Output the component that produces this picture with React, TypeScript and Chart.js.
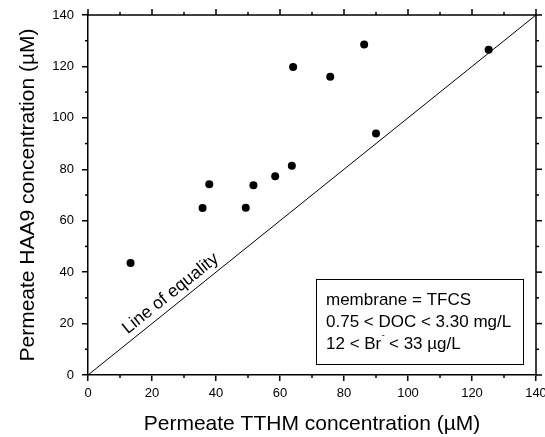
import React, { useEffect, useRef } from 'react';
import { Chart, registerables } from 'chart.js';

Chart.register(...registerables);

// ---- Data ----
const tthm = [13.3, 35.8, 37.9, 49.3, 51.7, 58.5, 63.7, 64.1, 75.7, 86.3, 90.0, 125.2];
const haa9 = [43.6, 64.9, 74.2, 65.0, 73.8, 77.3, 81.4, 119.8, 116.0, 128.5, 93.9, 126.5];

const equalityX = [0, 140];
const equalityY = [0, 140];

const axisMin = 0;
const axisMax = 140;
const majorStep = 20;
const minorStep = 10;

const xTitle = 'Permeate TTHM concentration (\u00b5M)';
const yTitle = 'Permeate HAA9 concentration (\u00b5M)';
const equalityLabel = 'Line of equality';
const legendLine1 = 'membrane = TFCS';
const legendLine2 = '0.75 < DOC < 3.30 mg/L';
const legendLine3a = '12 < Br';
const legendLine3sup = '-';
const legendLine3b = ' < 33 \u00b5g/L';

const FONT = '"Liberation Sans", Arial, Helvetica, sans-serif';

const decorPlugin = {
  id: 'decor',
  afterDraw(chart: any) {
    const ctx = chart.ctx as CanvasRenderingContext2D;
    const { left, right, top, bottom } = chart.chartArea;
    const xs = chart.scales.x;
    const ys = chart.scales.y;
    ctx.save();
    ctx.strokeStyle = '#000';
    ctx.lineWidth = 1.5;
    ctx.beginPath();
    ctx.moveTo(left, top);
    ctx.lineTo(right, top);
    ctx.lineTo(right, bottom);
    ctx.stroke();
    const seg = (x1: number, y1: number, x2: number, y2: number) => {
      ctx.beginPath();
      ctx.moveTo(x1, y1);
      ctx.lineTo(x2, y2);
      ctx.stroke();
    };
    for (let v = axisMin; v <= axisMax; v += minorStep) {
      const major = v % majorStep === 0;
      const len = major ? 6 : 3;
      const px = xs.getPixelForValue(v);
      const py = ys.getPixelForValue(v);
      seg(px, top, px, top - len);
      seg(right, py, right + len, py);
      if (!major) {
        seg(px, bottom, px, bottom + len);
        seg(left, py, left - len, py);
      }
    }

    // Line of equality label
    const p0x = xs.getPixelForValue(equalityX[0]);
    const p0y = ys.getPixelForValue(equalityY[0]);
    const p1x = xs.getPixelForValue(equalityX[1]);
    const p1y = ys.getPixelForValue(equalityY[1]);
    const ang = Math.atan2(p1y - p0y, p1x - p0x);
    ctx.save();
    ctx.translate(xs.getPixelForValue(25.8), ys.getPixelForValue(31.6));
    ctx.rotate(ang);
    ctx.fillStyle = '#000';
    ctx.font = `17.5px ${FONT}`;
    ctx.textAlign = 'center';
    ctx.textBaseline = 'middle';
    ctx.fillText(equalityLabel, 0, 0);
    ctx.restore();

    // Legend box
    const bx1 = xs.getPixelForValue(71.25);
    const bx2 = xs.getPixelForValue(135.9);
    const by1 = ys.getPixelForValue(37.2);
    const by2 = ys.getPixelForValue(4.3);
    ctx.lineWidth = 1;
    ctx.strokeStyle = '#000';
    ctx.fillStyle = '#fff';
    ctx.fillRect(bx1, by1, bx2 - bx1, by2 - by1);
    ctx.strokeRect(Math.round(bx1) + 0.5, Math.round(by1) + 0.5, Math.round(bx2 - bx1), Math.round(by2 - by1));
    ctx.fillStyle = '#000';
    ctx.font = `17px ${FONT}`;
    ctx.textAlign = 'left';
    ctx.textBaseline = 'middle';
    const tx = bx1 + 10;
    ctx.fillText(legendLine1, tx, by1 + 20.5);
    ctx.fillText(legendLine2, tx, by1 + 42.5);
    const y3 = by1 + 64.5;
    ctx.fillText(legendLine3a, tx, y3);
    const w = ctx.measureText(legendLine3a).width;
    ctx.font = `9px ${FONT}`;
    ctx.fillText(legendLine3sup, tx + w + 0.5, y3 - 8);
    const ws = ctx.measureText(legendLine3sup).width;
    ctx.font = `17px ${FONT}`;
    ctx.fillText(legendLine3b, tx + w + ws, y3);
    ctx.restore();
  },
};

export default function App() {
  const ref = useRef<HTMLCanvasElement | null>(null);
  useEffect(() => {
    if (!ref.current) return;
    const points = tthm.map((x, i) => ({ x, y: haa9[i] }));
    const eq = equalityX.map((x, i) => ({ x, y: equalityY[i] }));
    const tickFont = { family: FONT, size: 13 };
    const titleFont = { family: FONT, size: 21, lineHeight: 1.2 };
    const chart = new Chart(ref.current, {
      type: 'scatter',
      data: {
        datasets: [
          {
            type: 'line',
            data: eq,
            borderColor: '#000',
            borderWidth: 1,
            pointRadius: 0,
            fill: false,
          } as any,
          {
            data: points,
            backgroundColor: '#000',
            borderWidth: 0,
            pointRadius: 4,
            pointHoverRadius: 4,
          },
        ],
      },
      options: {
        animation: false,
        responsive: false,
        devicePixelRatio: 1,
        events: [],
        layout: { padding: { top: 15, right: 9, left: 0, bottom: 0 }, autoPadding: false } as any,
        plugins: { legend: { display: false }, tooltip: { enabled: false } },
        scales: {
          x: {
            type: 'linear',
            min: axisMin,
            max: axisMax,
            afterFit: (s: any) => { s.height = 62; s.paddingLeft = 0; s.paddingRight = 0; },
            ticks: { stepSize: majorStep, font: tickFont, color: '#000', padding: 5, maxRotation: 0 },
            grid: { drawOnChartArea: false, drawTicks: true, tickLength: 6, color: '#000', lineWidth: 1.5 },
            border: { display: true, color: '#000', width: 1.5 },
            title: { display: true, text: xTitle, font: titleFont, color: '#000', padding: { top: 0, bottom: 0 } },
          },
          y: {
            type: 'linear',
            min: axisMin,
            max: axisMax,
            afterFit: (s: any) => { s.width = 88; s.paddingTop = 0; s.paddingBottom = 0; },
            ticks: { stepSize: majorStep, font: tickFont, color: '#000', padding: 8 },
            grid: { drawOnChartArea: false, drawTicks: true, tickLength: 6, color: '#000', lineWidth: 1.5 },
            border: { display: true, color: '#000', width: 1.5 },
            title: { display: true, text: yTitle, font: titleFont, color: '#000', padding: { top: 16, bottom: 0 } },
          },
        },
      },
      plugins: [decorPlugin],
    });
    return () => chart.destroy();
  }, []);
  return (
    <div style={{ position: 'absolute', left: 0, top: 0, width: 545, height: 437, background: '#fff' }}>
      <canvas ref={ref} width={545} height={437} style={{ display: 'block', width: 545, height: 437 }} />
    </div>
  );
}
